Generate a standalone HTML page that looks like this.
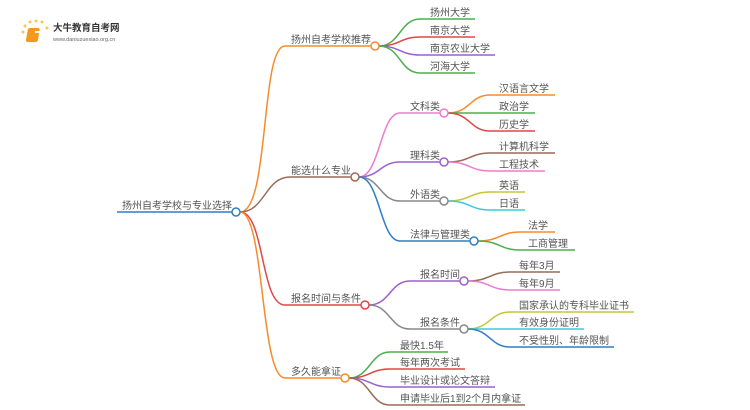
<!DOCTYPE html>
<html><head><meta charset="utf-8"><style>
html,body{margin:0;padding:0;background:#fff;width:750px;height:410px;overflow:hidden}
svg text{font-family:"Liberation Sans","Noto Sans CJK SC",sans-serif;font-size:10px;fill:#555}
</style></head><body>
<svg width="750" height="410" viewBox="0 0 750 410" xmlns="http://www.w3.org/2000/svg" fill="none" stroke-width="1.5">
<!-- logo -->
<g stroke="none">
<circle cx="23" cy="32" r="1.5" fill="#f7c84a"/><circle cx="25" cy="26" r="1.5" fill="#f7c84a"/><circle cx="30" cy="22" r="1.5" fill="#f7c84a"/><circle cx="36" cy="21" r="1.5" fill="#f7c84a"/><circle cx="42" cy="22" r="1.5" fill="#f7c84a"/><circle cx="47" cy="28" r="1.5" fill="#f7c84a"/>
<rect x="33" y="28" width="12" height="14" rx="2" fill="#f39a1e" transform="skewX(-10)"/>
<rect x="35" y="31" width="7" height="2" fill="#fff"/>
</g>
<text x="53" y="31" style="font-size:9.5px;font-weight:bold;fill:#333">大牛教育自考网</text>
<text x="53" y="41" style="font-size:5.5px;fill:#666">www.daniuzuexiao.org.cn</text>

<!-- root -->
<path d="M117 212 H233" stroke="#2f7fc4"/>
<text x="122" y="209">扬州自考学校与专业选择</text>
<!-- branch 1 -->
<path d="M240 212 C270 212,260 46,285 46 H371" stroke="#f68b2a"/>
<text x="291" y="43">扬州自考学校推荐</text>
<path d="M379 46 C400 46,400 19,420 19 H475" stroke="#4caf50"/>
<path d="M379 46 C400 46,400 37,420 37 H475" stroke="#e04646"/>
<path d="M379 46 C400 46,400 55,420 55 H495" stroke="#9c5fd0"/>
<path d="M379 46 C400 46,400 73,420 73 H475" stroke="#4caf50"/>
<text x="430" y="16">扬州大学</text><text x="430" y="34">南京大学</text><text x="430" y="52">南京农业大学</text><text x="430" y="70">河海大学</text>
<circle cx="375" cy="46" r="4" stroke="#f68b2a" fill="#fff"/>

<!-- branch 2 -->
<path d="M240 212 C265 212,265 177,290 177 H351" stroke="#9a6a5a"/>
<text x="291" y="174">能选什么专业</text>
<path d="M359 177 C380 177,380 113,400 113 H440" stroke="#ee7ccc"/>
<path d="M359 177 C380 177,380 162,400 162 H440" stroke="#9c5fd0"/>
<path d="M359 177 C380 177,380 201,400 201 H440" stroke="#888"/>
<path d="M359 177 C380 177,380 241,400 241 H470" stroke="#2f7fc4"/>
<text x="410" y="110">文科类</text><text x="410" y="159">理科类</text><text x="410" y="198">外语类</text><text x="410" y="238">法律与管理类</text>
<path d="M448 113 C470 113,470 95,490 95 H555" stroke="#f68b2a"/>
<path d="M448 113 H535" stroke="#4caf50"/>
<path d="M448 113 C470 113,470 131,490 131 H535" stroke="#e04646"/>
<path d="M448 162 C470 162,470 153,490 153 H555" stroke="#9a6a5a"/>
<path d="M448 162 C470 162,470 171,490 171 H545" stroke="#ee7ccc"/>
<path d="M448 201 C470 201,470 192,490 192 H525" stroke="#c5c53a"/>
<path d="M448 201 C470 201,470 210,490 210 H525" stroke="#3ec8dc"/>
<path d="M478 241 C500 241,500 232,520 232 H555" stroke="#f68b2a"/>
<path d="M478 241 C500 241,500 250,520 250 H575" stroke="#4caf50"/>
<text x="499" y="92">汉语言文学</text><text x="499" y="110">政治学</text><text x="499" y="128">历史学</text>
<text x="499" y="150">计算机科学</text><text x="499" y="168">工程技术</text>
<text x="499" y="189">英语</text><text x="499" y="207">日语</text>
<text x="528" y="229">法学</text><text x="528" y="247">工商管理</text>
<circle cx="355" cy="177" r="4" stroke="#9a6a5a" fill="#fff"/>
<circle cx="444" cy="113" r="4" stroke="#ee7ccc" fill="#fff"/>
<circle cx="444" cy="162" r="4" stroke="#9c5fd0" fill="#fff"/>
<circle cx="444" cy="201" r="4" stroke="#888" fill="#fff"/>
<circle cx="474" cy="241" r="4" stroke="#2f7fc4" fill="#fff"/>

<!-- branch 3 -->
<path d="M240 212 C265 212,260 305,285 305 H361" stroke="#e04646"/>
<text x="291" y="302">报名时间与条件</text>
<path d="M369 305 C390 305,390 281,410 281 H460" stroke="#9c5fd0"/>
<path d="M369 305 C390 305,390 329,410 329 H460" stroke="#888"/>
<text x="420" y="278">报名时间</text><text x="420" y="326">报名条件</text>
<path d="M468 281 C490 281,490 272,510 272 H560" stroke="#9a6a5a"/>
<path d="M468 281 C490 281,490 290,510 290 H560" stroke="#ee7ccc"/>
<path d="M468 329 C490 329,490 312,510 312 H634" stroke="#c5c53a"/>
<path d="M468 329 H584" stroke="#3ec8dc"/>
<path d="M468 329 C490 329,490 347,510 347 H614" stroke="#2f7fc4"/>
<text x="519" y="269">每年3月</text><text x="519" y="287">每年9月</text>
<text x="519" y="309">国家承认的专科毕业证书</text><text x="519" y="326">有效身份证明</text><text x="519" y="344">不受性别、年龄限制</text>
<circle cx="365" cy="305" r="4" stroke="#e04646" fill="#fff"/>
<circle cx="464" cy="281" r="4" stroke="#9c5fd0" fill="#fff"/>
<circle cx="464" cy="329" r="4" stroke="#888" fill="#fff"/>

<!-- branch 4 -->
<path d="M240 212 C265 212,260 378,285 378 H341" stroke="#f68b2a"/>
<text x="291" y="375">多久能拿证</text>
<path d="M349 378 C370 378,370 352,390 352 H448" stroke="#4caf50"/>
<path d="M349 378 C370 378,370 369,390 369 H465" stroke="#e04646"/>
<path d="M349 378 C370 378,370 387,390 387 H495" stroke="#9c5fd0"/>
<path d="M349 378 C370 378,370 405,390 405 H525" stroke="#9a6a5a"/>
<text x="400" y="349">最快1.5年</text><text x="400" y="366">每年两次考试</text><text x="400" y="384">毕业设计或论文答辩</text><text x="400" y="402">申请毕业后1到2个月内拿证</text>
<circle cx="345" cy="378" r="4" stroke="#f68b2a" fill="#fff"/>

<circle cx="236" cy="212" r="4" stroke="#2f7fc4" fill="#fff"/>
</svg>
</body></html>
